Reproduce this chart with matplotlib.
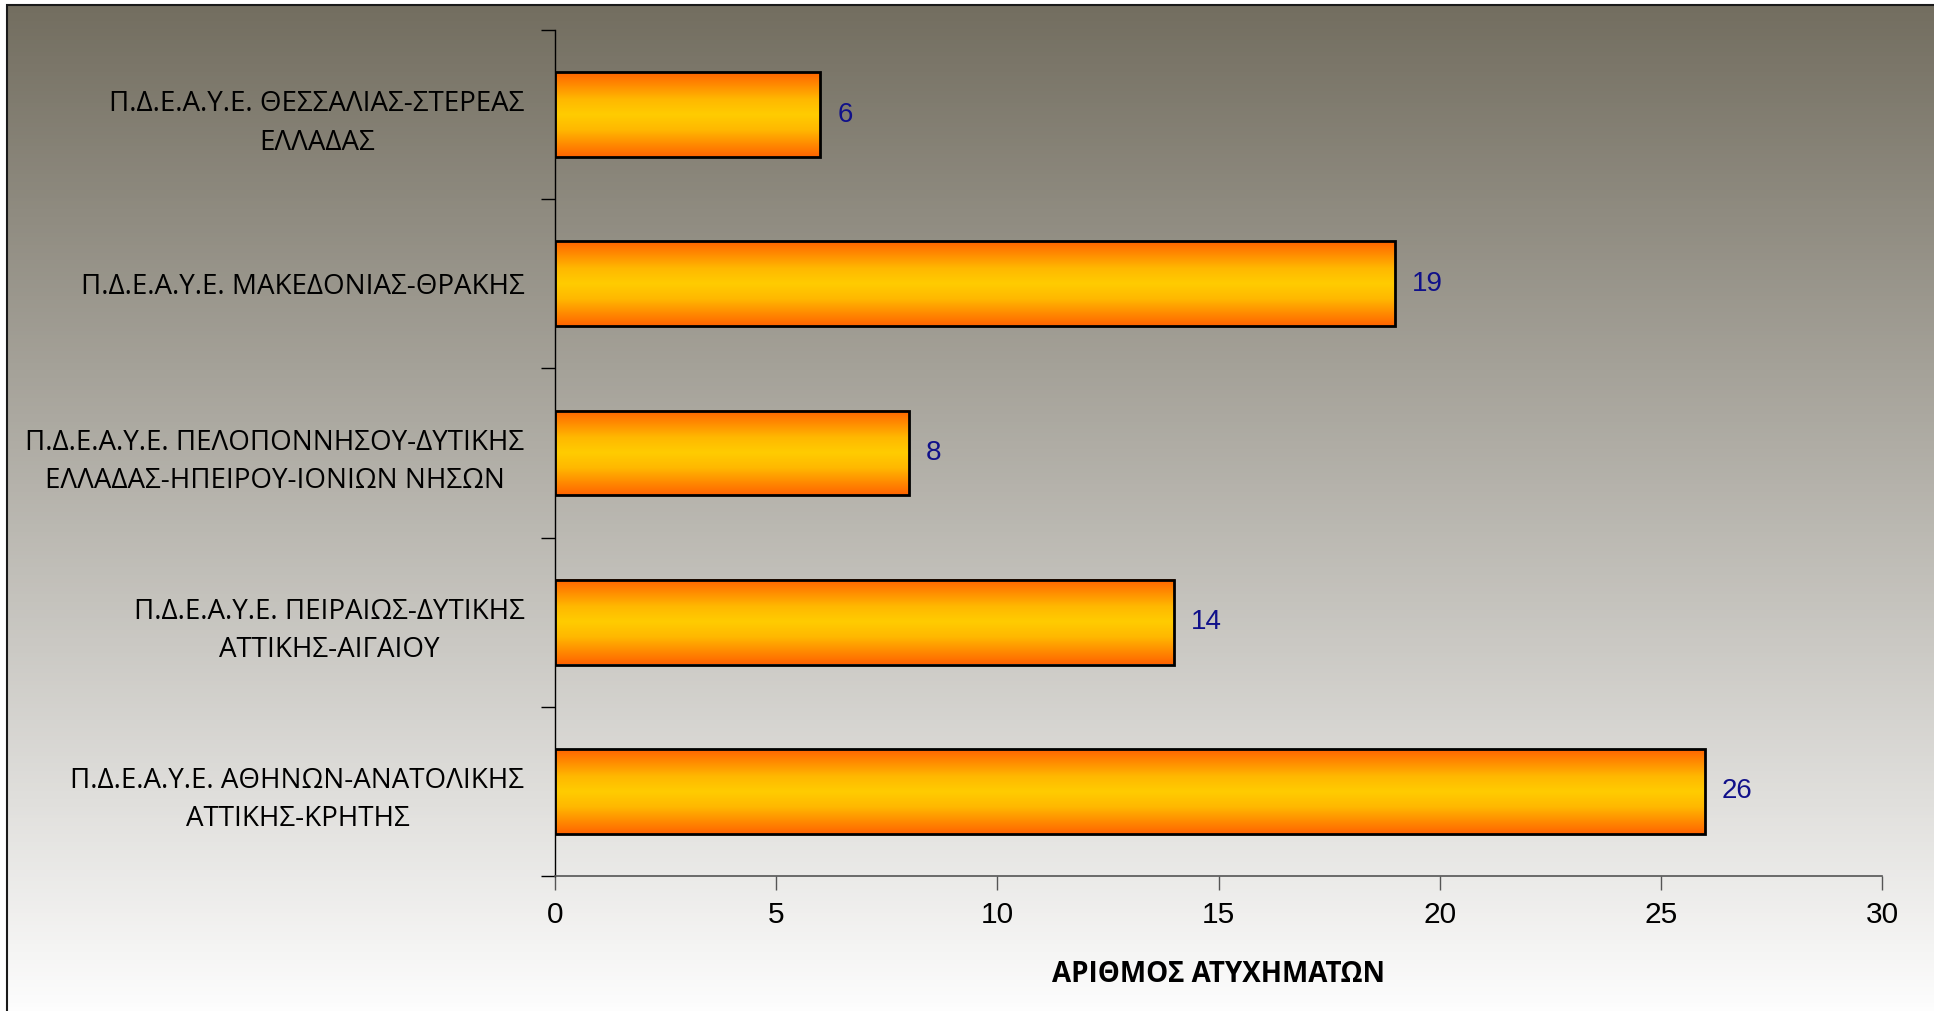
import numpy as np
import matplotlib.pyplot as plt
from matplotlib.colors import LinearSegmentedColormap
from matplotlib.patches import Rectangle

# categories listed top to bottom, as in the picture
categories = [
    "Π.Δ.Ε.Α.Υ.Ε. ΘΕΣΣΑΛΙΑΣ-ΣΤΕΡΕΑΣ\nΕΛΛΑΔΑΣ",
    "Π.Δ.Ε.Α.Υ.Ε. ΜΑΚΕΔΟΝΙΑΣ-ΘΡΑΚΗΣ",
    "Π.Δ.Ε.Α.Υ.Ε. ΠΕΛΟΠΟΝΝΗΣΟΥ-ΔΥΤΙΚΗΣ\nΕΛΛΑΔΑΣ-ΗΠΕΙΡΟΥ-ΙΟΝΙΩΝ ΝΗΣΩΝ",
    "Π.Δ.Ε.Α.Υ.Ε. ΠΕΙΡΑΙΩΣ-ΔΥΤΙΚΗΣ\nΑΤΤΙΚΗΣ-ΑΙΓΑΙΟΥ",
    "Π.Δ.Ε.Α.Υ.Ε. ΑΘΗΝΩΝ-ΑΝΑΤΟΛΙΚΗΣ\nΑΤΤΙΚΗΣ-ΚΡΗΤΗΣ",
]
values = [6, 19, 8, 14, 26]
xticks = [0, 5, 10, 15, 20, 25, 30]
xlabel = "ΑΡΙΘΜΟΣ ΑΤΥΧΗΜΑΤΩΝ"

W, H = 1934, 1011
fig = plt.figure(figsize=(W / 100, H / 100), dpi=100)

# background gradient inside the chart border
bg = fig.add_axes([7 / W, 0, 1 - 7 / W, 1 - 5 / H], zorder=-10)
top = np.array([115, 110, 96]) / 255
bot = np.array([253, 253, 253]) / 255
t = np.linspace(0, 1, 256)[:, None]
grad = top[None, :] * (1 - t) + bot[None, :] * t
bg.imshow(grad[:, None, :], aspect="auto", extent=(0, 1, 0, 1))
bg.set_axis_off()
fig.patches.append(Rectangle((7 / W, -0.1), 1.2, 1 - 5 / H + 0.1,
                             transform=fig.transFigure, fill=False,
                             edgecolor="#1a1a1a", linewidth=1.5, zorder=5))

ax = fig.add_axes([555 / W, 1 - 876 / H, (1882 - 555) / W, (876 - 30) / H])
ax.patch.set_alpha(0)

bar_cmap = LinearSegmentedColormap.from_list(
    "bar", [(0, "#FF6400"), (0.32, "#FFB800"), (0.5, "#FFCC00"),
            (0.68, "#FFB800"), (1, "#FF6400")])
g = np.linspace(0, 1, 200)[:, None]

n = len(categories)
ypos = np.arange(n)[::-1]
h = 0.5
for y, v in zip(ypos, values):
    ax.imshow(g, cmap=bar_cmap, aspect="auto",
              extent=(0, v, y - h / 2, y + h / 2), zorder=2)
    ax.barh(y, v, height=h, facecolor="none", edgecolor="black",
            linewidth=2, zorder=3)
    ax.text(v + 0.38, y, str(v), va="center", ha="left", fontsize=20,
            color="#10108a", family="Liberation Sans")

ax.set_xlim(0, 30)
ax.set_ylim(-0.5, n - 0.5)
ax.set_xticks(xticks)
ax.set_xticklabels([str(x) for x in xticks], fontsize=21.5,
                   family="Liberation Sans")
ax.set_yticks(np.arange(n + 1) - 0.5, minor=True)
ax.set_yticks(ypos)
ax.set_yticklabels(categories, fontsize=20, family="Open Sans",
                   multialignment="center", linespacing=1.5)
ax.tick_params(axis="y", which="major", length=0, pad=22)
ax.tick_params(axis="y", which="minor", length=10, width=1, color="black",
               direction="out")
ax.tick_params(axis="x", length=10, width=1, color="#555555", pad=8)

for s in ["top", "right"]:
    ax.spines[s].set_visible(False)
ax.spines["left"].set_color("black")
ax.spines["bottom"].set_color("#555555")
ax.spines["left"].set_linewidth(1)
ax.spines["bottom"].set_linewidth(1.2)

ax.set_xlabel(xlabel, fontsize=20, fontweight="bold", family="Open Sans",
              labelpad=22)

fig.savefig("out.png", dpi=100)
